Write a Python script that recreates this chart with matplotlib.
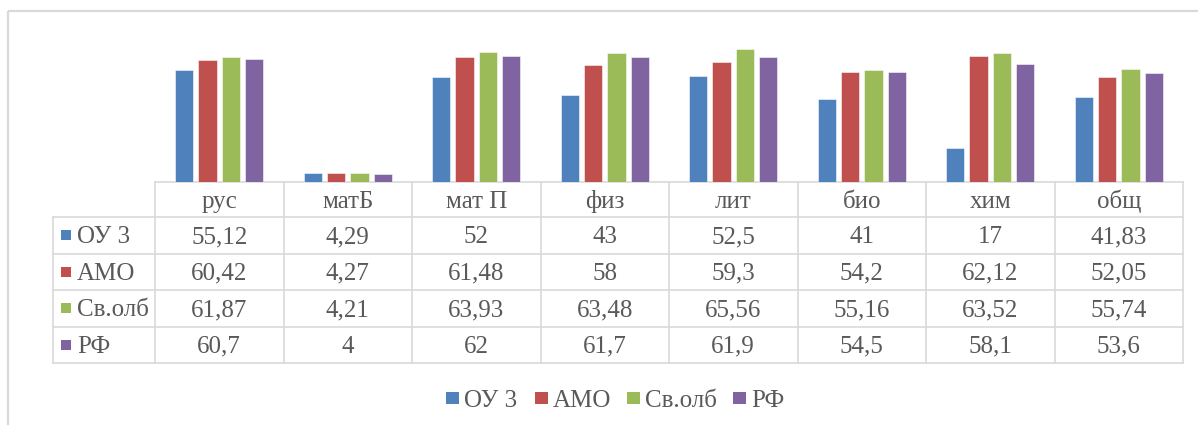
import matplotlib
matplotlib.use("Agg")
import matplotlib.pyplot as plt
from matplotlib.patches import Rectangle
import numpy as np

categories = ["рус", "матБ", "мат П", "физ", "лит", "био", "хим", "общ"]
series_names = ["ОУ 3", "АМО", "Св.олб", "РФ"]
ou3 = [55.12, 4.29, 52, 43, 52.5, 41, 17, 41.83]
amo = [60.42, 4.27, 61.48, 58, 59.3, 54.2, 62.12, 52.05]
svolb = [61.87, 4.21, 63.93, 63.48, 65.56, 55.16, 63.52, 55.74]
rf = [60.7, 4, 62, 61.7, 61.9, 54.5, 58.1, 53.6]
series = [ou3, amo, svolb, rf]
colors = ["#4F81BD", "#C0504D", "#9BBB59", "#8064A2"]

W, H = 1198, 425
TXT = "#595959"
GRID = "#D9D9D9"
FONT = "Liberation Serif"
FS = 18
BASE_OFF = 8.2  # pixels from cell centre to text baseline

fig = plt.figure(figsize=(W / 100, H / 100), dpi=100)

# pixel-space background axes for table, legend and border
bg = fig.add_axes([0, 0, 1, 1])
bg.set_xlim(0, W)
bg.set_ylim(H, 0)
bg.axis("off")

# layout in pixels
col_left, col_w = 155, 128.5
row_edges = [182, 217, 253.5, 290, 326.5, 363]
label_left = 53
base_y, top_y = 182, 40.2
ymax = 70

# bar axes
ax = fig.add_axes([col_left / W, 1 - base_y / H, 8 * col_w / W, (base_y - top_y) / H])
ax.set_xlim(-0.5, len(categories) - 0.5)
ax.set_ylim(0, ymax)
ax.axis("off")
x = np.arange(len(categories))
pitch, bw = 0.1815, 0.143
for i, (vals, c) in enumerate(zip(series, colors)):
    ax.bar(x + (i - 1.5) * pitch, vals, width=bw, color=c,
           edgecolor=(1, 1, 1, 0.6), linewidth=0.6)

# border of chart area
bg.plot([7.5, W], [10.5, 10.5], color=GRID, lw=1.6, solid_capstyle="butt")
bg.plot([7.5, 7.5], [10.5, H], color=GRID, lw=1.6, solid_capstyle="butt")

# table grid
right = col_left + 8 * col_w
bg.plot([col_left, right], [row_edges[0]] * 2, color=GRID, lw=1.2)
for ye in row_edges[1:]:
    bg.plot([label_left, right], [ye, ye], color=GRID, lw=1.2)
for k in range(9):
    xe = col_left + k * col_w
    bg.plot([xe, xe], [row_edges[0], row_edges[-1]], color=GRID, lw=1.2)
bg.plot([label_left, label_left], [row_edges[1], row_edges[-1]], color=GRID, lw=1.2)

def fmt(v):
    return f"{v:g}".replace(".", ",")

# header
hy = (row_edges[0] + row_edges[1]) / 2
for k, cat in enumerate(categories):
    bg.text(col_left + (k + 0.5) * col_w, hy + BASE_OFF, cat, ha="center", va="baseline",
            fontsize=FS, family=FONT, color=TXT)

# rows
for r, (name, vals, c) in enumerate(zip(series_names, series, colors)):
    cy = (row_edges[r + 1] + row_edges[r + 2]) / 2
    bg.add_patch(Rectangle((61, cy - 5), 10, 10, color=c, lw=0))
    bg.text(77, cy + BASE_OFF, name, ha="left", va="baseline", fontsize=FS,
            family=FONT, color=TXT)
    for k, v in enumerate(vals):
        bg.text(col_left + (k + 0.5) * col_w, cy + BASE_OFF, fmt(v), ha="center",
                va="baseline", fontsize=FS, family=FONT, color=TXT)

# legend
leg_y = 398
leg_x = [446, 535, 627, 733]
for lx, name, c in zip(leg_x, series_names, colors):
    bg.add_patch(Rectangle((lx, leg_y - 6.3), 12.5, 12.5, color=c, lw=0))
    bg.text(lx + 18, leg_y + 9, name, ha="left", va="baseline", fontsize=FS,
            family=FONT, color=TXT)

fig.savefig("out.png", dpi=100)
